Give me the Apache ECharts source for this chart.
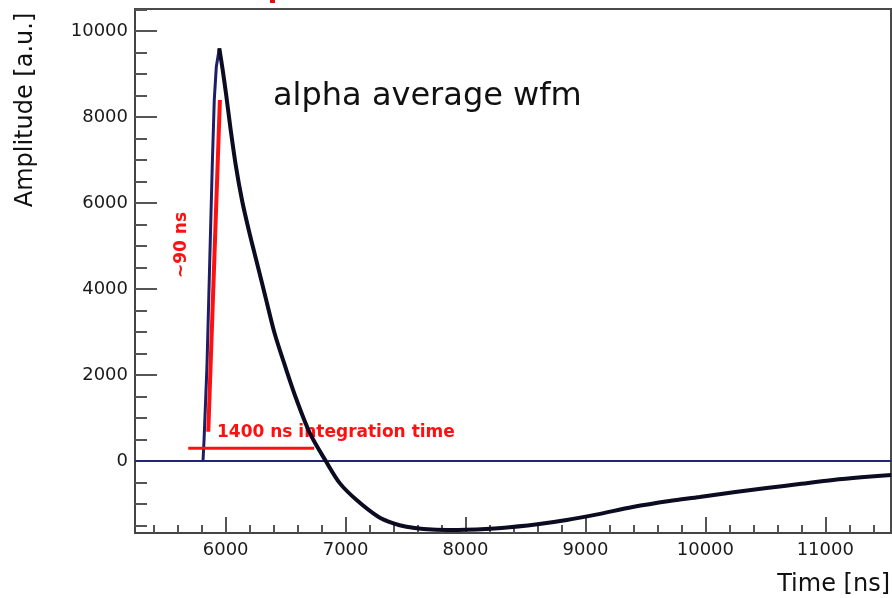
<!DOCTYPE html>
<html>
<head>
<meta charset="utf-8">
<script src="https://cdn.jsdelivr.net/npm/echarts@6/dist/echarts.min.js"></script>
<style>
  html, body { margin: 0; padding: 0; background: #fff; }
  #chart { width: 892px; height: 598px; }
</style>
</head>
<body>
<div id="chart"></div>
<script>
// averaged alpha waveform [time ns, amplitude a.u.]
const risePts = [[5811, 0], [5820, 500], [5844, 2194], [5866, 4519], [5888, 6845], [5905, 8395], [5922, 9170], [5947, 9597]];
const decayPts = [
  [5947, 9597], [5975, 9100], [6005, 8500], [6042, 7700], [6086, 6845], [6136, 6070],
  [6197, 5320], [6269, 4519], [6336, 3770], [6408, 2970], [6497, 2194], [6592, 1419],
  [6703, 644], [6835, 0], [6953, -520], [7092, -907], [7272, -1295], [7400, -1450],
  [7508, -1528], [7650, -1580], [7850, -1605], [8000, -1600], [8300, -1555], [8600, -1470],
  [8844, -1372], [9100, -1240], [9394, -1070], [9700, -930], [9952, -837], [10250, -720],
  [10511, -628], [10800, -530], [11064, -442], [11300, -380], [11550, -326]
];
const zeroPts = [[5244, 0], [11550, 0]];
// red annotation lines
const riseMarker = [[5855, 681], [5952, 8395]];
const windowMarker = [[5688, 295], [6738, 295]];

const xMajor = [6000, 7000, 8000, 9000, 10000, 11000];
const yMajor = [0, 2000, 4000, 6000, 8000, 10000];
const xMinor = [];
for (let v = 5400; v <= 11400; v += 200) xMinor.push(v);
const yMinor = [];
for (let v = -1500; v <= 10500; v += 500) yMinor.push(v);

const X_MIN = 5244, X_MAX = 11548;
const Y_MIN = -1674, Y_MAX = 10512;

const FONT = '"DejaVu Sans", "Liberation Sans", sans-serif';
const tickStyle = { color: '#555', width: 2 };
const plain = v => String(v);

const chart = echarts.init(document.getElementById('chart'));
chart.setOption({
  animation: false,
  backgroundColor: '#fff',
  grid: {
    left: 135, right: 1, top: 9, bottom: 65,
    show: true, borderColor: '#4a4a4a', borderWidth: 2
  },
  xAxis: [
    {
      type: 'value', min: X_MIN, max: X_MAX, position: 'bottom',
      axisLine: { show: true, onZero: false, lineStyle: { color: '#444', width: 2 } },
      axisTick: { show: true, inside: true, length: 16, lineStyle: tickStyle, customValues: xMajor },
      axisLabel: { customValues: xMajor, formatter: plain, margin: 8, color: '#1a1a1a', fontFamily: FONT, fontSize: 18 },
      splitLine: { show: false }
    },
    {
      type: 'value', min: X_MIN, max: X_MAX, position: 'bottom',
      axisLine: { show: false, onZero: false },
      axisTick: { show: true, inside: true, length: 8, lineStyle: tickStyle, customValues: xMinor },
      axisLabel: { show: false, customValues: xMinor },
      splitLine: { show: false }
    }
  ],
  yAxis: [
    {
      type: 'value', min: Y_MIN, max: Y_MAX, position: 'left',
      axisLine: { show: true, onZero: false, lineStyle: { color: '#444', width: 2 } },
      axisTick: { show: true, inside: true, length: 22, lineStyle: tickStyle, customValues: yMajor },
      axisLabel: { customValues: yMajor, formatter: plain, margin: 7, color: '#1a1a1a', fontFamily: FONT, fontSize: 18 },
      splitLine: { show: false }
    },
    {
      type: 'value', min: Y_MIN, max: Y_MAX, position: 'left',
      axisLine: { show: false, onZero: false },
      axisTick: { show: true, inside: true, length: 12, lineStyle: tickStyle, customValues: yMinor },
      axisLabel: { show: false, customValues: yMinor },
      splitLine: { show: false }
    }
  ],
  series: [
    {
      type: 'line', data: zeroPts, showSymbol: false,
      lineStyle: { color: '#23237a', width: 2 }
    },
    {
      type: 'line', data: risePts, showSymbol: false,
      lineStyle: { color: '#1e1e66', width: 3 }
    },
    {
      type: 'line', data: decayPts, showSymbol: false, smooth: 0.3,
      lineStyle: { color: '#0b0b22', width: 4 }
    },
    {
      type: 'line', data: riseMarker, showSymbol: false,
      lineStyle: { color: '#ff1010', width: 4 }
    },
    {
      type: 'line', data: windowMarker, showSymbol: false,
      lineStyle: { color: '#ff1010', width: 3 }
    }
  ],
  graphic: [
    {
      type: 'text', x: 273, y: 97,
      style: { text: 'alpha average wfm', fill: '#111', font: '32px ' + FONT,
        textAlign: 'left', textVerticalAlign: 'middle', align: 'left', verticalAlign: 'middle' }
    },
    {
      type: 'text', x: 217, y: 433,
      style: { text: '1400 ns integration time', fill: '#ff1010', font: 'bold 17px ' + FONT,
        textAlign: 'left', textVerticalAlign: 'middle', align: 'left', verticalAlign: 'middle' }
    },
    {
      type: 'text', x: 182, y: 245, rotation: Math.PI / 2,
      style: { text: '~90 ns', fill: '#ff1010', font: 'bold 17px ' + FONT,
        textAlign: 'center', textVerticalAlign: 'middle', align: 'center', verticalAlign: 'middle' }
    },
    {
      type: 'text', x: 26, y: 110, rotation: Math.PI / 2,
      style: { text: 'Amplitude [a.u.]', fill: '#111', font: '24px ' + FONT,
        textAlign: 'center', textVerticalAlign: 'middle', align: 'center', verticalAlign: 'middle' }
    },
    {
      type: 'text', x: 890, y: 585,
      style: { text: 'Time [ns]', fill: '#111', font: '24px ' + FONT,
        textAlign: 'right', textVerticalAlign: 'middle', align: 'right', verticalAlign: 'middle' }
    },
    {
      type: 'rect', shape: { x: 270, y: 0, width: 5, height: 3 },
      style: { fill: '#e01010' }
    }
  ]
});
</script>
</body>
</html>
